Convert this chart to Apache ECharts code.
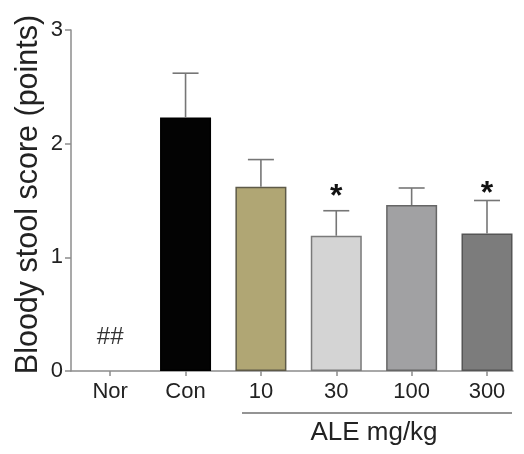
<!DOCTYPE html>
<html>
<head>
<meta charset="utf-8">
<script src="https://cdn.jsdelivr.net/npm/echarts@6/dist/echarts.min.js"></script>
<style>
  html, body { margin: 0; padding: 0; background: #fff; }
  #chart { width: 524px; height: 454px; }
</style>
</head>
<body>
<div id="chart"></div>
<script>
// Data
const groups = ['Nor', 'Con', '10', '30', '100', '300'];
const meanScore = [0, 2.23, 1.62, 1.19, 1.46, 1.21];
const upperError = [0, 2.62, 1.86, 1.41, 1.61, 1.50];
const sigMarks = ['##', '', '', '*', '', '*'];
const yTicks = [0, 1, 2, 3];

// Styling
const barColors = ['rgba(0,0,0,0)', '#030303', '#b0a674', '#d4d4d4', '#a1a1a3', '#7c7c7c'];
const barBorders = ['rgba(0,0,0,0)', '#000000', '#5e5a48', '#7a7a7a', '#666666', '#555555'];
const markLift = [34, 0, 0, -2, 0, -10];
const font = "'Liberation Sans', Arial, Helvetica, sans-serif";
const axisColor = '#8c8c8c';

const chart = echarts.init(document.getElementById('chart'));

const barData = meanScore.map(function (v, i) {
    return {
        value: [i, v],
        itemStyle: { color: barColors[i], borderColor: barBorders[i], borderWidth: v > 0 ? 1.5 : 0 }
    };
});
const errData = meanScore.map(function (v, i) { return [i, v, upperError[i]]; });
const markData = sigMarks.map(function (m, i) { return [i, upperError[i], i]; });

const option = {
    animation: false,
    backgroundColor: '#ffffff',
    grid: { left: 71, right: 11, top: 30, bottom: 83, outerBoundsMode: 'none', containLabel: false },
    xAxis: {
        type: 'value',
        min: -0.52,
        max: 5.345,
        splitLine: { show: false },
        axisLine: { show: true, onZero: false, lineStyle: { color: axisColor, width: 1.5 } },
        axisTick: {
            show: true,
            length: 5,
            customValues: groups.map(function (g, i) { return i; }),
            lineStyle: { color: axisColor, width: 1.5 }
        },
        axisLabel: {
            customValues: groups.map(function (g, i) { return i; }),
            formatter: function (v) { return groups[Math.round(v)]; },
            color: '#222',
            fontFamily: font,
            fontSize: 22,
            margin: 10
        }
    },
    yAxis: {
        type: 'value',
        min: yTicks[0],
        max: yTicks[yTicks.length - 1],
        interval: 1,
        name: 'Bloody stool score (points)',
        nameLocation: 'middle',
        nameGap: 27,
        nameMoveOverlap: false,
        nameTextStyle: { color: '#222', fontFamily: font, fontSize: 30.5, padding: [0, 0, 0, 12] },
        splitLine: { show: false },
        axisLine: { show: true, onZero: false, lineStyle: { color: axisColor, width: 1.5 } },
        axisTick: { show: true, length: 6, lineStyle: { color: axisColor, width: 1.5 } },
        axisLabel: { color: '#222', fontFamily: font, fontSize: 22, margin: 8 }
    },
    graphic: [
        {
            type: 'line',
            shape: { x1: 242, y1: 413, x2: 512, y2: 413 },
            style: { stroke: '#707070', lineWidth: 1.5 }
        },
        {
            type: 'text',
            x: 374,
            y: 433,
            style: {
                text: 'ALE mg/kg',
                font: '26px ' + font,
                fill: '#222',
                align: 'center',
                verticalAlign: 'middle'
            }
        }
    ],
    series: [
        {
            type: 'bar',
            barWidth: 51,
            data: barData
        },
        {
            type: 'custom',
            z: 3,
            data: errData,
            renderItem: function (params, api) {
                const x = api.value(0);
                if (api.value(2) <= api.value(1)) return null;
                const p0 = api.coord([x, api.value(1)]);
                const p1 = api.coord([x, api.value(2)]);
                const half = 13;
                const st = { stroke: '#767676', lineWidth: 1.6 };
                return {
                    type: 'group',
                    children: [
                        { type: 'line', shape: { x1: p0[0], y1: p0[1], x2: p1[0], y2: p1[1] }, style: st },
                        { type: 'line', shape: { x1: p1[0] - half, y1: p1[1], x2: p1[0] + half, y2: p1[1] }, style: st }
                    ]
                };
            }
        },
        {
            type: 'custom',
            z: 4,
            data: markData,
            renderItem: function (params, api) {
                const i = api.value(2);
                const txt = sigMarks[i];
                if (!txt) return null;
                const p = api.coord([api.value(0), api.value(1)]);
                const isStar = txt === '*';
                return {
                    type: 'text',
                    x: p[0],
                    y: p[1] - markLift[i],
                    style: {
                        text: txt,
                        font: (isStar ? 'bold 32px ' : '24px ') + font,
                        fill: isStar ? '#111' : '#333',
                        align: 'center',
                        verticalAlign: isStar ? 'bottom' : 'middle'
                    }
                };
            }
        }
    ]
};
chart.setOption(option);
</script>
</body>
</html>
